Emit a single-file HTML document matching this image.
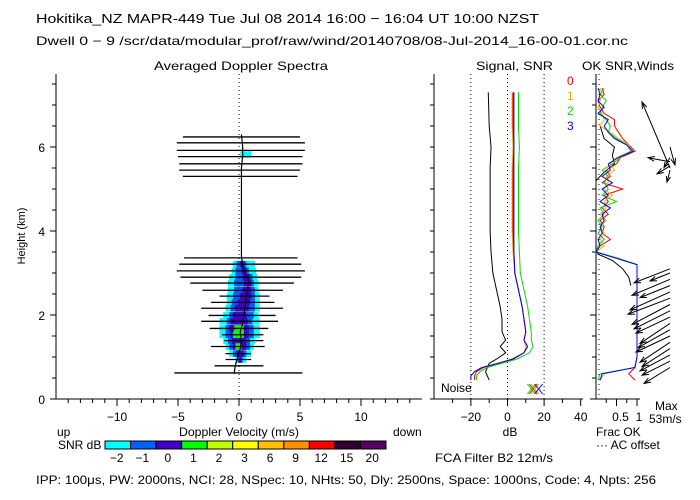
<!DOCTYPE html>
<html><head><meta charset="utf-8">
<style>
body{margin:0;background:#fff;}
svg{display:block;font-family:"Liberation Sans",sans-serif;font-size:12px;}
</style></head>
<body>
<svg id="c" width="700" height="500" viewBox="0 0 700 500">
<text x="36" y="23" font-size="13" textLength="503" lengthAdjust="spacingAndGlyphs">Hokitika_NZ  MAPR-449  Tue Jul 08 2014 16:00 − 16:04 UT 10:00 NZST</text>
<text x="36" y="45" font-size="12" textLength="592" lengthAdjust="spacingAndGlyphs">Dwell  0 −  9   /scr/data/modular_prof/raw/wind/20140708/08-Jul-2014_16-00-01.cor.nc</text>
<text x="154" y="70" textLength="174" lengthAdjust="spacingAndGlyphs">Averaged Doppler Spectra</text>
<text x="476" y="70" textLength="77" lengthAdjust="spacingAndGlyphs">Signal, SNR</text>
<text x="582" y="70" textLength="92" lengthAdjust="spacingAndGlyphs">OK SNR,Winds</text>
<g id="g"></g>
<text x="25" y="236" text-anchor="middle" transform="rotate(-90 25 236)" font-size="11">Height (km)</text>
<text x="57" y="436">up</text>
<text x="239" y="436" text-anchor="middle" textLength="120" lengthAdjust="spacingAndGlyphs">Doppler Velocity (m/s)</text>
<text x="393" y="436">down</text>
<text x="510" y="436" text-anchor="middle">dB</text>
<text x="655" y="410">Max</text>
<text x="649" y="423">53m/s</text>
<text x="596" y="436">Frac OK</text>
<text x="596" y="449">··· AC offset</text>
<text x="58" y="449">SNR dB</text>
<text x="435" y="462" textLength="118" lengthAdjust="spacingAndGlyphs">FCA Filter B2 12m/s</text>
<text x="36" y="484" textLength="620" lengthAdjust="spacingAndGlyphs">IPP: 100μs,  PW: 2000ns,  NCI:  28,  NSpec: 10, NHts: 50,  Dly: 2500ns,  Space: 1000ns,  Code: 4,  Npts: 256</text>
<text x="441" y="392">Noise</text>
</svg>
<script>
// ---- data ----
const lineH=[6.24,6.10,5.92,5.77,5.60,5.45,5.30,3.36,3.21,3.05,2.90,2.76,2.59,2.45,2.30,2.16,1.99,1.85,1.68,1.53,1.39,1.25,1.08,0.94,0.79,0.62];
const lineL=[-4.6,-5.1,-5.1,-5.0,-4.9,-4.9,-4.6,-4.5,-4.9,-5.1,-4.8,-4.0,-3.0,-1.6,-2.3,-3.1,-2.5,-3.1,-2.4,-1.4,-1.2,-2.3,-1.1,-1.1,-2.0,-5.3];
const lineR=[5.0,5.4,5.4,5.2,5.2,5.0,4.8,4.8,5.1,5.4,5.1,4.5,3.6,2.5,2.9,3.6,3.0,3.2,2.4,2.0,2.0,2.1,1.0,1.0,2.0,5.2];
const gateH=[5.82,3.21,3.05,2.90,2.76,2.59,2.45,2.30,2.16,1.99,1.85,1.68,1.53,1.39,1.25,1.08,0.94];
const cyanL=[0.1,-0.5,-0.6,-0.8,-0.9,-0.9,-1.0,-1.0,-1.1,-1.3,-1.6,-1.6,-1.6,-1.3,-1.1,-0.8,-0.3];
const cyanR=[1.0,1.3,1.4,1.5,1.6,1.6,1.7,1.7,1.7,1.6,1.7,1.7,1.7,1.3,1.2,1.0,0.6];
const blueL=[null,-0.2,-0.3,-0.3,-0.4,-0.4,-0.5,-0.6,-0.7,-0.8,-1.0,-1.1,-1.1,-0.9,-0.8,-0.5,-0.1];
const blueR=[null,0.6,0.8,1.1,1.2,1.3,1.3,1.3,1.3,1.2,1.1,1.2,1.2,0.9,0.9,0.6,0.3];
const purpL=[null,0.1,0.2,0.3,0.4,0.3,0.1,-0.1,-0.3,-0.5,-0.7,-0.8,-0.7,-0.6,-0.5,-0.2,0.0];
const purpR=[null,0.4,0.6,0.9,1.0,1.0,1.0,0.9,0.8,0.6,0.7,0.8,0.8,0.6,0.6,0.4,0.2];
const greenL=[null,null,null,null,null,null,null,null,null,null,null,-0.4,-0.5,null,-0.3,null,null];
const greenR=[null,null,null,null,null,null,null,null,null,null,null,0.4,0.4,null,0.2,null,null];
const peakH=[6.3,6.0,5.8,5.5,3.4,3.2,3.0,2.8,2.6,2.4,2.2,2.0,1.8,1.6,1.4,1.2,1.0,0.8,0.6];
const peakV=[0.2,0.3,0.3,0.2,0.2,0.3,0.5,0.8,0.7,0.6,0.5,0.4,0.3,0.1,0.2,0.1,-0.1,-0.3,-0.4];
const sigH=[7.3,6.5,6.0,5.5,5.0,4.5,4.0,3.5,3.0,2.6,2.2,1.9,1.6,1.4,1.25,1.1,0.95,0.85,0.75,0.65,0.55,0.45];
const sigDb=[-10.5,-10,-9,-9.5,-9.5,-9.5,-9.5,-9,-8,-6,-4,-3,-3,-1,-4,-1,-6,-10,-11,-12,-11,-10];
const snr0=[3,3,3.5,3,3,3,3,3.5,4,6,8,9,10,9,11,9,3,-5,-13,-17,-18,-18];
const snr1=[2.5,2.5,3,2.5,2.5,2.5,2.5,3,4,6,8,9,10,9,10,9,2,-6,-14,-18,-20,-20];
const snr2=[6,6,6.5,6,6,6,6,6.5,7,9,11,12,13,13,14,12,5,-3,-11,-15,-17,-17];
const snr3=[3.5,3.5,3.5,3.5,3.5,3.5,3.5,3.5,4,6,8,9,10,9,11,9,3,-5,-14,-18,-20,-20];
const noiseDb=[14,15,13,17];
const fracH=[7.4,7.25,7.1,6.95,6.8,6.65,6.5,6.35,6.2,6.05,5.9,5.75,5.6,5.45,5.3,5.15,5.0,4.85,4.7,4.55,4.4,4.25,4.1,3.95,3.8,3.65,3.5,3.35,3.2,3.0,2.5,2.0,1.5,1.0,0.75,0.6,0.45];
const frac0=[0.15,0.2,0.05,0.1,0.2,0.45,0.45,0.55,0.65,0.8,0.95,0.6,0.5,0.25,0.35,0.15,0.65,0.2,0.3,0.15,0.3,0.1,0.2,0.15,0.35,0.1,0.0,0.5,1,1,1,1,1,1,0.95,0.8,0.95];
const frac1=[0.1,0.15,0.1,0.05,0.15,0.2,0.1,0.35,0.55,0.8,0.85,0.5,0.35,0.45,0.25,0.3,0.2,0.4,0.2,0.25,0.1,0.25,0.1,0.2,0.1,0.2,0.0,0.55,1,1,1,1,1,1,0.95,0.2,0.1];
const frac2=[0.2,0.1,0.25,0.15,0.1,0.25,0.35,0.3,0.5,0.75,0.85,0.6,0.4,0.15,0.3,0.2,0.3,0.15,0.5,0.1,0.2,0.05,0.15,0.05,0.2,0.05,0.0,0.55,1,1,1,1,1,1,0.95,0.1,0.05];
const frac3=[0.05,0.1,0.05,0.2,0.05,0.3,0.2,0.3,0.45,0.75,0.9,0.55,0.3,0.35,0.15,0.4,0.15,0.3,0.1,0.35,0.15,0.2,0.1,0.15,0.05,0.1,0.0,0.5,1,1,1,1,1,1,0.95,0.15,0.1];
const acH=[6.5,6.2,6.0,5.8,5.6,5.4,5.2,3.6,3.45,3.3,3.1,2.9,2.7];
const acF=[0.1,0.2,0.45,0.4,0.45,0.2,0.0,0.0,0.05,0.4,0.65,0.8,0.85];
const windH=[5.5,5.65,5.55,5.45,6.0,5.75,3.1,3.0,2.85,2.7,2.55,2.4,2.25,2.1,1.95,1.8,1.65,1.5,1.35,1.2,1.05,0.9,0.75];
const windU=[-28,-22,-13,-3,5,-6,-36,-20,-38,-30,-40,-42,-38,-36,-34,-30,-32,-34,-30,-28,-30,-28,-26];
const windV=[66,4,-8,-12,-18,-10,-14,-8,-16,-12,-18,-16,-20,-18,-16,-20,-18,-16,-20,-18,-16,-14,-16];
const cbColors=["#00ffff","#0060ff","#4000c8","#00ff00","#c0ff00","#ffff00","#ffc000","#ff9000","#ff0000","#300030","#580060"];
const cbLabels=["−2","−1","0","1","2","3","6","9","12","15","20"];
const vTicks=[-10,-5,0,5,10];
const dbTicks=[-20,0,20,40];
const fracTicks=["0.5","1"];
const fracTickVals=[0.5,1];
const hTicks=[0,2,4,6];
// ---- scales ----
const yH=h=>399-42*h;
const xV=v=>239+12.2*v;
const xDb=d=>507.5+1.83*d;
const xF=f=>596+41*f;
const NS="http://www.w3.org/2000/svg";
const G=document.getElementById('g');
function mk(t,a){const e=document.createElementNS(NS,t);for(const k in a)e.setAttribute(k,a[k]);G.appendChild(e);return e;}
function line(x1,y1,x2,y2,s,w,d){return mk('line',{x1,y1,x2,y2,stroke:s||'#000','stroke-width':w||1,'stroke-dasharray':d||'none'});}
let e;
e=line(56,74,56,399);
e=line(56,399,422,399);
e=line(434,74,434,399);
e=line(434,399,583,399);
e=line(596,74,596,399);
e=line(596,399,640,399);
for(let h=0;h<=7.5;h+=0.5){const y=yH(h);const maj=hTicks.includes(h);
 line(maj?50:52,y,56,y);line(430,y,434,y);line(maj?590:592,y,596,y);}
hTicks.forEach(h=>{e=mk('text',{x:45,y:yH(h)+5,'text-anchor':'end'});e.textContent=h;});
for(let v=-14;v<=14;v++){const x=xV(v);line(x,399,x,v%5===0?406:403);}
vTicks.forEach(v=>{e=mk('text',{x:xV(v),y:421,'text-anchor':'middle'});e.textContent=v<0?'−'+(-v):v;});
for(let d=-30;d<=40;d+=10){const x=xDb(d);if(x>434)line(x,399,x,d%20===0?406:403);}
dbTicks.forEach(d=>{e=mk('text',{x:xDb(d),y:421,'text-anchor':'middle'});e.textContent=d<0?'−'+(-d):d;});
[0.25,0.5,0.75,1].forEach(f=>line(xF(f),399,xF(f),f%0.5===0?406:403));
fracTicks.forEach((t,i)=>{e=mk('text',{x:xF(fracTickVals[i])+(i?2:4),y:421,'text-anchor':'middle'});e.textContent=t;});
e=line(239,74,239,399,'#000',1,'1,3');
[-20,0,20].forEach(d=>{e=line(xDb(d),74,xDb(d),399,'#000',1,'1,3');});
e=line(599,74,599,399,'#000',1,'1,4');
function band(L,R,col,name){gateH.forEach((h,i)=>{if(L[i]==null)return;const r=mk('rect',{x:xV(L[i]),y:yH(h)-3.3,width:xV(R[i])-xV(L[i]),height:6.6,fill:col});
 });}
band(cyanL,cyanR,'#00ffff','spectra-cell-cyan');band(blueL,blueR,'#0060ff','spectra-cell-blue');band(purpL,purpR,'#4000c8','spectra-cell-purple');band(greenL,greenR,'#00ff00','spectra-cell-green');
lineH.forEach((h,i)=>{e=line(xV(lineL[i]),yH(h),xV(lineR[i]),yH(h),'#000',1.3);});
e=mk('polyline',{points:peakH.map((h,i)=>xV(peakV[i])+','+yH(h)).join(' '),fill:'none',stroke:'#000','stroke-width':1.2});

function pl(H,X,fx,col,name){const p=mk('polyline',{points:H.map((h,i)=>fx(X[i])+','+yH(h)).join(' '),fill:'none',stroke:col,'stroke-width':1});
 }
pl(sigH,sigDb,xDb,'#000','signal-line');
pl(sigH,snr2,xDb,'#00e000','snr-line-2');pl(sigH,snr1,xDb,'#f0b000','snr-line-1');pl(sigH,snr0,xDb,'#ff0000','snr-line-0');pl(sigH,snr3,xDb,'#0000ff','snr-line-3');
const ncol=['#ff0000','#f0b000','#00e000','#0000ff'];
noiseDb.forEach((d,i)=>{const x=xDb(d),y=389;const a=line(x-4,y-5,x+4,y+5,ncol[i]);
 const b=line(x-4,y+5,x+4,y-5,ncol[i]);});
pl(acH,acF,xF,'#000','ac-offset-frac-line');
pl(fracH,frac0,xF,'#ff0000','frac-line-0');pl(fracH,frac1,xF,'#f0b000','frac-line-1');pl(fracH,frac2,xF,'#00e000','frac-line-2');pl(fracH,frac3,xF,'#0000ff','frac-line-3');
['0','1','2','3'].forEach((t,i)=>{e=mk('text',{x:567,y:85+15*i,fill:ncol[i]});e.textContent=t;});
windH.forEach((h,i)=>{const x0=670,y0=yH(h),x1=x0+windU[i],y1=y0-windV[i];
 const L=Math.hypot(x1-x0,y1-y0),ux=(x1-x0)/L,uy=(y1-y0)/L,hl=Math.min(7,L*0.5);
 const p=mk('path',{d:`M${x0},${y0}L${x1},${y1}M${x1-hl*(ux*0.94-uy*0.34)},${y1-hl*(uy*0.94+ux*0.34)}L${x1},${y1}L${x1-hl*(ux*0.94+uy*0.34)},${y1-hl*(uy*0.94-ux*0.34)}`,stroke:'#000',fill:'none','stroke-width':1});
 });
const cx0=105,cx1=386,cw=(cx1-cx0)/cbColors.length;
cbColors.forEach((c,i)=>{e=mk('rect',{x:cx0+i*cw,y:441,width:cw,height:8,fill:c,stroke:'#000','stroke-width':1});
 const t=mk('text',{x:cx0+i*cw+cw/2-1,y:462,'text-anchor':'middle'});t.textContent=cbLabels[i];});
</script>
</body></html>
